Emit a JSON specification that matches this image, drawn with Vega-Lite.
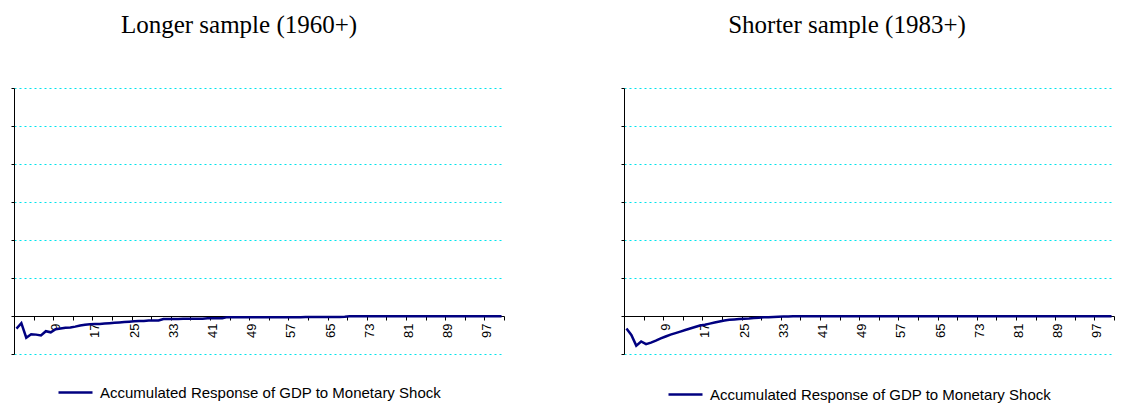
{
  "$schema": "https://vega.github.io/schema/vega-lite/v6.json",
  "background": "white",
  "padding": {"left": 8, "top": 12, "right": 0, "bottom": 0},
  "config": {
    "view": {"stroke": null},
    "font": "Liberation Sans",
    "concat": {"spacing": 107}
  },
  "datasets": {
    "longer": [
      {"p":1,"v":-0.33},{"p":2,"v":-0.19},{"p":3,"v":-0.57},{"p":4,"v":-0.48},{"p":5,"v":-0.49},
      {"p":6,"v":-0.51},{"p":7,"v":-0.40},{"p":8,"v":-0.43},{"p":9,"v":-0.35},{"p":10,"v":-0.33},
      {"p":11,"v":-0.31},{"p":12,"v":-0.30},{"p":13,"v":-0.28},{"p":14,"v":-0.25},{"p":15,"v":-0.23},
      {"p":16,"v":-0.22},{"p":17,"v":-0.21},{"p":18,"v":-0.21},{"p":19,"v":-0.20},{"p":20,"v":-0.19},
      {"p":21,"v":-0.18},{"p":22,"v":-0.17},{"p":23,"v":-0.16},{"p":24,"v":-0.15},{"p":25,"v":-0.14},
      {"p":26,"v":-0.13},{"p":27,"v":-0.13},{"p":28,"v":-0.12},{"p":29,"v":-0.12},{"p":30,"v":-0.12},
      {"p":31,"v":-0.08},{"p":32,"v":-0.08},{"p":33,"v":-0.08},{"p":34,"v":-0.08},{"p":35,"v":-0.07},
      {"p":36,"v":-0.07},{"p":37,"v":-0.07},{"p":38,"v":-0.07},{"p":39,"v":-0.07},{"p":40,"v":-0.06},
      {"p":41,"v":-0.06},{"p":42,"v":-0.06},{"p":43,"v":-0.06},{"p":44,"v":-0.03},{"p":45,"v":-0.03},
      {"p":46,"v":-0.03},{"p":47,"v":-0.03},{"p":48,"v":-0.03},{"p":49,"v":-0.03},{"p":50,"v":-0.03},
      {"p":51,"v":-0.03},{"p":52,"v":-0.03},{"p":53,"v":-0.03},{"p":54,"v":-0.03},{"p":55,"v":-0.03},
      {"p":56,"v":-0.03},{"p":57,"v":-0.03},{"p":58,"v":-0.03},{"p":59,"v":-0.03},{"p":60,"v":-0.025},
      {"p":61,"v":-0.025},{"p":62,"v":-0.025},{"p":63,"v":-0.025},{"p":64,"v":-0.025},{"p":65,"v":-0.025},
      {"p":66,"v":-0.025},{"p":67,"v":-0.025},{"p":68,"v":-0.02},{"p":69,"v":-0.005},{"p":70,"v":-0.005},
      {"p":71,"v":-0.005},{"p":72,"v":-0.005},{"p":73,"v":-0.005},{"p":74,"v":-0.005},{"p":75,"v":-0.005},
      {"p":76,"v":-0.005},{"p":77,"v":-0.005},{"p":78,"v":-0.005},{"p":79,"v":-0.005},{"p":80,"v":-0.005},
      {"p":81,"v":-0.005},{"p":82,"v":-0.005},{"p":83,"v":-0.005},{"p":84,"v":-0.005},{"p":85,"v":-0.005},
      {"p":86,"v":-0.005},{"p":87,"v":-0.005},{"p":88,"v":-0.005},{"p":89,"v":-0.005},{"p":90,"v":-0.005},
      {"p":91,"v":-0.005},{"p":92,"v":-0.005},{"p":93,"v":-0.005},{"p":94,"v":-0.005},{"p":95,"v":-0.005},
      {"p":96,"v":-0.005},{"p":97,"v":-0.005},{"p":98,"v":-0.005},{"p":99,"v":-0.005},{"p":100,"v":-0.005}
    ],
    "shorter": [
      {"p":1,"v":-0.33},{"p":2,"v":-0.50},{"p":3,"v":-0.78},{"p":4,"v":-0.67},{"p":5,"v":-0.74},
      {"p":6,"v":-0.70},{"p":7,"v":-0.65},{"p":8,"v":-0.59},{"p":9,"v":-0.54},{"p":10,"v":-0.49},
      {"p":11,"v":-0.45},{"p":12,"v":-0.41},{"p":13,"v":-0.37},{"p":14,"v":-0.33},{"p":15,"v":-0.29},
      {"p":16,"v":-0.25},{"p":17,"v":-0.23},{"p":18,"v":-0.20},{"p":19,"v":-0.17},{"p":20,"v":-0.145},
      {"p":21,"v":-0.12},{"p":22,"v":-0.10},{"p":23,"v":-0.09},{"p":24,"v":-0.08},{"p":25,"v":-0.07},
      {"p":26,"v":-0.065},{"p":27,"v":-0.055},{"p":28,"v":-0.045},{"p":29,"v":-0.035},{"p":30,"v":-0.03},
      {"p":31,"v":-0.025},{"p":32,"v":-0.02},{"p":33,"v":-0.015},{"p":34,"v":-0.01},{"p":35,"v":-0.008},
      {"p":36,"v":-0.006},{"p":37,"v":-0.005},{"p":38,"v":-0.005},{"p":39,"v":-0.005},{"p":40,"v":-0.005},
      {"p":41,"v":-0.005},{"p":42,"v":-0.005},{"p":43,"v":-0.005},{"p":44,"v":-0.005},{"p":45,"v":-0.005},
      {"p":46,"v":-0.005},{"p":47,"v":-0.005},{"p":48,"v":-0.005},{"p":49,"v":-0.005},{"p":50,"v":-0.005},
      {"p":51,"v":-0.005},{"p":52,"v":-0.005},{"p":53,"v":-0.005},{"p":54,"v":-0.005},{"p":55,"v":-0.005},
      {"p":56,"v":-0.005},{"p":57,"v":-0.005},{"p":58,"v":-0.005},{"p":59,"v":-0.005},{"p":60,"v":-0.005},
      {"p":61,"v":-0.005},{"p":62,"v":-0.005},{"p":63,"v":-0.005},{"p":64,"v":-0.005},{"p":65,"v":-0.005},
      {"p":66,"v":-0.005},{"p":67,"v":-0.005},{"p":68,"v":-0.005},{"p":69,"v":-0.005},{"p":70,"v":-0.005},
      {"p":71,"v":-0.005},{"p":72,"v":-0.005},{"p":73,"v":-0.005},{"p":74,"v":-0.005},{"p":75,"v":-0.005},
      {"p":76,"v":-0.005},{"p":77,"v":-0.005},{"p":78,"v":-0.005},{"p":79,"v":-0.005},{"p":80,"v":-0.005},
      {"p":81,"v":-0.005},{"p":82,"v":-0.005},{"p":83,"v":-0.005},{"p":84,"v":-0.005},{"p":85,"v":-0.005},
      {"p":86,"v":-0.005},{"p":87,"v":-0.005},{"p":88,"v":-0.005},{"p":89,"v":-0.005},{"p":90,"v":-0.005},
      {"p":91,"v":-0.005},{"p":92,"v":-0.005},{"p":93,"v":-0.005},{"p":94,"v":-0.005},{"p":95,"v":-0.005},
      {"p":96,"v":-0.005},{"p":97,"v":-0.005},{"p":98,"v":-0.005},{"p":99,"v":-0.005},{"p":100,"v":-0.005}
    ]
  },
  "hconcat": [
    {
      "width": 490,
      "height": 266,
      "title": {"text": "Longer sample (1960+)", "font": "Liberation Serif", "fontSize": 25, "fontWeight": "normal", "color": "black", "anchor": "middle", "dx": -20, "offset": 50},
      "data": {"name": "longer"},
      "mark": {"type": "line", "strokeWidth": 2.5, "color": "#000080"},
      "encoding": {
        "x": {"field": "p", "type": "quantitative",
              "scale": {"domain": [0.5, 100.5], "nice": false, "zero": false},
              "axis": {"title": null, "offset": -38,
                       "values": [0.5,4.5,8.5,12.5,16.5,20.5,24.5,28.5,32.5,36.5,40.5,44.5,48.5,52.5,56.5,60.5,64.5,68.5,72.5,76.5,80.5,84.5,88.5,92.5,96.5,100.5,9,17,25,33,41,49,57,65,73,81,89,97],
                       "labelExpr": "datum.value % 1 === 0 ? datum.label : ''",
                       "labelOverlap": false, "labelFlush": false,
                       "labelAngle": -90, "labelFontSize": 13, "labelColor": "black", "labelPadding": 3,
                       "tickSize": 4, "tickColor": "black",
                       "tickOpacity": {"condition": {"test": "datum.value % 1 === 0", "value": 0}, "value": 1},
                       "domainColor": "black", "grid": false}},
        "y": {"field": "v", "type": "quantitative",
              "scale": {"domain": [-1, 6], "nice": false, "zero": false},
              "axis": {"title": null, "labels": false, "values": [-1,0,1,2,3,4,5,6], "tickSize": 3, "tickColor": "black", "domainColor": "black",
                       "grid": true, "gridDash": [2,3], "gridWidth": 1, "gridColor": "#00E5EE", "gridOpacity": 1}},
        "color": {"datum": "Accumulated Response of GDP to Monetary Shock", "type": "nominal",
                  "scale": {"range": ["#000080"]},
                  "legend": {"title": null, "orient": "none", "legendX": 43, "legendY": 286, "symbolType": "stroke", "symbolSize": 1156, "symbolStrokeWidth": 2.5, "labelFont": "Liberation Sans", "labelFontSize": 15, "labelColor": "black", "labelOffset": 6, "labelLimit": 0}}
      }
    },
    {
      "width": 490,
      "height": 266,
      "title": {"text": "Shorter sample (1983+)", "font": "Liberation Serif", "fontSize": 25, "fontWeight": "normal", "color": "black", "anchor": "middle", "dx": -22, "offset": 50},
      "data": {"name": "shorter"},
      "mark": {"type": "line", "strokeWidth": 2.5, "color": "#000080"},
      "encoding": {
        "x": {"field": "p", "type": "quantitative",
              "scale": {"domain": [0.5, 100.5], "nice": false, "zero": false},
              "axis": {"title": null, "offset": -38,
                       "values": [0.5,4.5,8.5,12.5,16.5,20.5,24.5,28.5,32.5,36.5,40.5,44.5,48.5,52.5,56.5,60.5,64.5,68.5,72.5,76.5,80.5,84.5,88.5,92.5,96.5,100.5,9,17,25,33,41,49,57,65,73,81,89,97],
                       "labelExpr": "datum.value % 1 === 0 ? datum.label : ''",
                       "labelOverlap": false, "labelFlush": false,
                       "labelAngle": -90, "labelFontSize": 13, "labelColor": "black", "labelPadding": 3,
                       "tickSize": 4, "tickColor": "black",
                       "tickOpacity": {"condition": {"test": "datum.value % 1 === 0", "value": 0}, "value": 1},
                       "domainColor": "black", "grid": false}},
        "y": {"field": "v", "type": "quantitative",
              "scale": {"domain": [-1, 6], "nice": false, "zero": false},
              "axis": {"title": null, "labels": false, "values": [-1,0,1,2,3,4,5,6], "tickSize": 3, "tickColor": "black", "domainColor": "black",
                       "grid": true, "gridDash": [2,3], "gridWidth": 1, "gridColor": "#00E5EE", "gridOpacity": 1}},
        "color": {"datum": "Accumulated Response of GDP to Monetary Shock", "type": "nominal",
                  "scale": {"range": ["#000080"]},
                  "legend": {"title": null, "orient": "none", "legendX": 43, "legendY": 288, "symbolType": "stroke", "symbolSize": 1156, "symbolStrokeWidth": 2.5, "labelFont": "Liberation Sans", "labelFontSize": 15, "labelColor": "black", "labelOffset": 6, "labelLimit": 0}}
      }
    }
  ],
  "resolve": {"scale": {"color": "independent"}, "legend": {"color": "independent"}}
}
